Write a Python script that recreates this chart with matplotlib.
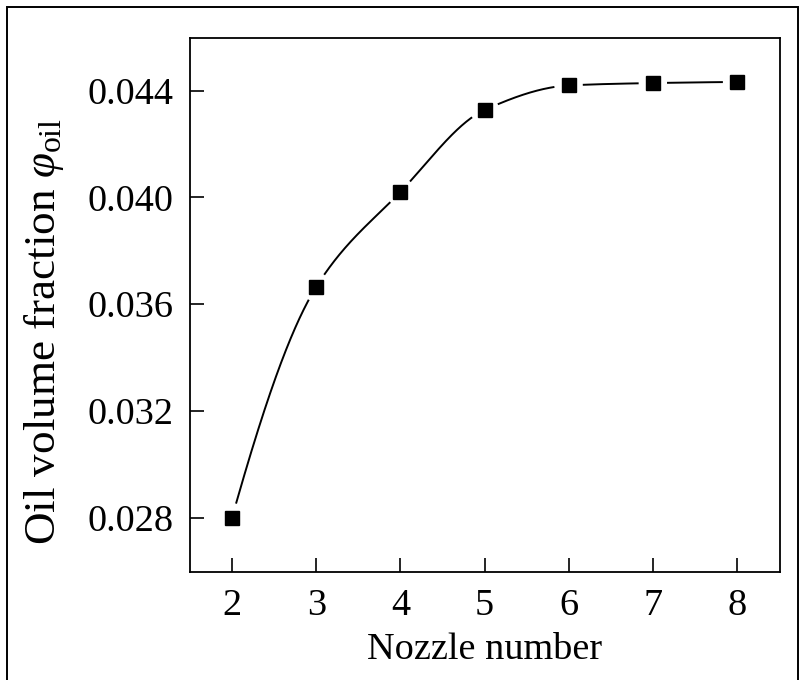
import numpy as np
import matplotlib
matplotlib.use('Agg')
import matplotlib.pyplot as plt
from matplotlib.patches import Rectangle

# ---- data ----
nozzle_number = [2, 3, 4, 5, 6, 7, 8]
oil_volume_fraction = [0.0280, 0.03665, 0.04021, 0.04328, 0.04420, 0.04429, 0.04433]
x_ticks = [2, 3, 4, 5, 6, 7, 8]
y_ticks = [0.028, 0.032, 0.036, 0.040, 0.044]
y_tick_labels = ['0.028', '0.032', '0.036', '0.040', '0.044']
x_label = 'Nozzle number'
y_label = r'Oil volume fraction $\varphi_{\mathrm{oil}}$'

plt.rcParams['font.family'] = ['Liberation Serif', 'DejaVu Serif']
plt.rcParams['mathtext.fontset'] = 'custom'
plt.rcParams['mathtext.rm'] = 'Liberation Serif'
plt.rcParams['mathtext.it'] = 'Liberation Serif:italic'


def pchip(x, y, xs):
    x = np.asarray(x, float)
    y = np.asarray(y, float)
    h = np.diff(x)
    d = np.diff(y) / h
    n = len(x)
    m = np.zeros(n)
    for k in range(1, n - 1):
        if d[k - 1] * d[k] > 0:
            w1 = 2 * h[k] + h[k - 1]
            w2 = h[k] + 2 * h[k - 1]
            m[k] = (w1 + w2) / (w1 / d[k - 1] + w2 / d[k])

    def endslope(h0, h1, d0, d1):
        s = ((2 * h0 + h1) * d0 - h0 * d1) / (h0 + h1)
        if np.sign(s) != np.sign(d0):
            s = 0.0
        elif np.sign(d0) != np.sign(d1) and abs(s) > abs(3 * d0):
            s = 3 * d0
        return s

    m[0] = endslope(h[0], h[1], d[0], d[1])
    m[-1] = endslope(h[-1], h[-2], d[-1], d[-2])
    idx = np.clip(np.searchsorted(x, xs) - 1, 0, n - 2)
    t = (xs - x[idx]) / h[idx]
    h00 = 2 * t**3 - 3 * t**2 + 1
    h10 = t**3 - 2 * t**2 + t
    h01 = -2 * t**3 + 3 * t**2
    h11 = t**3 - t**2
    return (h00 * y[idx] + h10 * h[idx] * m[idx] +
            h01 * y[idx + 1] + h11 * h[idx] * m[idx + 1])


fig = plt.figure(figsize=(8.04, 6.8), dpi=100)
ax = fig.add_axes([190 / 804, 1 - 572 / 680, (780 - 190) / 804, (572 - 38) / 680])
ax.set_xlim(1.5, 8.51)
ax.set_ylim(0.025957, 0.04598)

# smooth connecting line with gaps around the markers
xs = np.linspace(nozzle_number[0], nozzle_number[-1], 1200)
ys = pchip(nozzle_number, oil_volume_fraction, xs)
disp = ax.transData.transform(np.column_stack([xs, ys]))
mk = ax.transData.transform(np.column_stack([nozzle_number, oil_volume_fraction]))
dist = np.min(np.hypot(disp[:, None, 0] - mk[None, :, 0],
                       disp[:, None, 1] - mk[None, :, 1]), axis=1)
ys_gap = np.where(dist < 15, np.nan, ys)
ax.plot(xs, ys_gap, color='black', lw=1.4, zorder=2)
ax.plot(nozzle_number, oil_volume_fraction, 's', color='black', ms=10.5,
        zorder=3, linestyle='none')

ax.set_xticks(x_ticks)
ax.set_yticks(y_ticks)
ax.set_yticklabels(y_tick_labels)
ax.tick_params(axis='both', direction='in', length=10, width=1.2,
               labelsize=27.5, top=False, right=False)
ax.tick_params(axis='y', pad=12)
ax.tick_params(axis='x', pad=12)
for sp in ax.spines.values():
    sp.set_linewidth(1.3)

ax.set_xlabel(x_label, fontsize=27.5, labelpad=7)
ax.set_ylabel(y_label, fontsize=32.5)
ax.yaxis.set_label_coords(-0.21, 0.451)

fig.add_artist(Rectangle((7 / 804, -0.05), (798 - 7) / 804, 1 - 7 / 680 + 0.05,
                         transform=fig.transFigure, fill=False, lw=1.4,
                         ec='black'))

fig.savefig('out.png', dpi=100)
